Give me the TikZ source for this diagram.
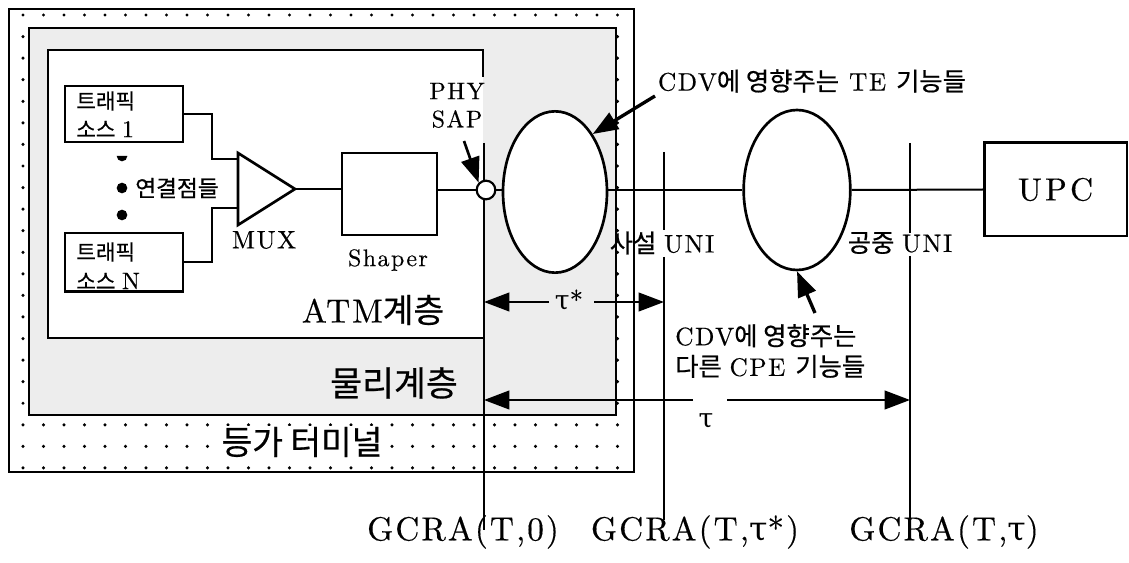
\documentclass[tikz,border=0pt]{standalone}
\usepackage{fontspec}
\usepackage{graphicx}
\newfontfamily\kr{Noto Sans CJK KR}[FakeBold=0.6]
\newfontfamily\gk{DejaVu Serif}
\newfontfamily\lmw{lmroman10-regular.otf}[LetterSpace=6,FakeBold=0.35]
\usetikzlibrary{arrows.meta,shapes.geometric}
\newcommand\sz[1]{\fontsize{#1}{#1}\selectfont}
\newcommand\K[1]{{\kr #1}}
\newcommand\tauc{{\gk τ}}
\begin{document}
\begin{tikzpicture}[x=0.75pt,y=-0.75pt,
  bx/.style={draw,line width=2pt},
  ln/.style={line width=1.5pt},
  head/.style={-{Triangle[length=19pt,width=14pt]}},
  lbl/.style={inner sep=0pt}]
\useasboundingbox (0,0) rectangle (1129,563);
% ---------- outer terminal box with dot pattern ----------
\coordinate (oNW) at (9,9);
\coordinate (oSE) at (634,472);
\begin{scope}
  \clip (oNW) rectangle (oSE);
  \foreach \i in {0,...,29}{\foreach \j in {0,...,21}{%
    \fill (23+20.5*\i,15+21.57*\j) circle[radius=1.3pt];}}
\end{scope}
\coordinate (gNW) at (29,28);
\coordinate (gSE) at (616,415);
\fill[black!7] (gNW) rectangle (gSE);
\fill[white] (48,50) rectangle (483,338);
\draw[bx] (oNW) rectangle (oSE);
\draw[bx] (gNW) rectangle (gSE);
\coordinate (atmA) at (483,77);
\draw[bx] (atmA) -- (483,50) -- (48,50) -- (48,338) -- (483,338);
\node[fill=white,inner sep=1pt,font=\kr\sz{25}] (eqt) at (302,442) {등가 터미널};
\node[lbl,font=\kr\sz{26}] (phy) at (394,383) {물리계층};
\node[lbl] (atm) at (373,310) {\lmw\sz{25}ATM\K{계층}};
% ---------- traffic sources ----------
\node[bx,minimum width=88.5pt,minimum height=42pt,inner sep=0pt] (tb1) at (124,114) {};
\node[bx,minimum width=88.5pt,minimum height=44pt,inner sep=0pt] (tbN) at (124,262.5) {};
\node[lbl,anchor=west,font=\kr\sz{16}] (t1a) at (76,101) {트래픽};
\node[lbl,anchor=west,font=\sz{16}] (t1b) at (76,129) {\K{소스} \lmw\sz{18}1};
\node[lbl,anchor=west,font=\kr\sz{16}] (tNa) at (76,252) {트래픽};
\node[lbl,anchor=west,font=\sz{16}] (tNb) at (76,281) {\K{소스} \lmw\sz{18}N};
\fill (122,188) circle[radius=4pt];
\fill (122,215) circle[radius=4pt];
\fill (116.7,156) arc[start angle=180,end angle=360,radius=4pt] -- cycle;
\node[lbl,anchor=west,font=\kr\sz{17}] (conn) at (135,188) {연결점들};
% ---------- MUX ----------
\coordinate (muxA) at (238,153);
\coordinate (muxO) at (295,189);
\coordinate (muxB) at (238,225);
\draw[bx,fill=white] (muxA) -- (muxO) -- (muxB) -- cycle;
\coordinate (mi1) at (238,159);
\coordinate (miN) at (238,208);
\coordinate (k1) at (212,159);
\coordinate (kN) at (212,208);
\draw[ln] (tb1.east) -| (k1) -- (mi1);
\draw[ln] (tbN.east) -| (kN) -- (miN);
\node[lbl,font=\lmw\sz{19}] (muxl) at (264,240) {MUX};
% ---------- Shaper ----------
\node[bx,minimum width=71.25pt,minimum height=61.5pt,inner sep=0pt] (shp) at (389.5,194) {};
\node[lbl,font=\lmw\sz{18}] (shpl) at (388,260) {Shaper};
\draw[ln] (muxO) -- (muxO -| shp.west);
% ---------- PHY SAP ----------
\coordinate (phyT) at (484,143);
\coordinate (phyB) at (484,530);
\draw[ln] (phyT) -- (phyB);
\node[circle,draw,fill=white,line width=1.6pt,minimum size=14pt,inner sep=0pt] (sap) at (486,190) {};
\draw[ln] (shp.east |- sap) -- (sap.west);
\node[lbl,font=\lmw\sz{18}] (sapl1) at (457,91) {PHY};
\node[lbl,font=\lmw\sz{18}] (sapl2) at (457,119) {SAP};
\coordinate (sapAr) at (464,141);
\draw[line width=2pt,head] (sapAr) -- (sap.north west);
% ---------- ellipses and UPC ----------
\node[ellipse,draw,fill=white,line width=2pt,minimum width=78pt,minimum height=121pt,inner sep=0pt] (e1) at (555,192) {};
\node[ellipse,draw,fill=white,line width=2pt,minimum width=80pt,minimum height=120pt,inner sep=0pt] (e2) at (797,190) {};
\node[bx,minimum width=107pt,minimum height=70pt,inner sep=0pt,font=\lmw\sz{24}\addfontfeatures{LetterSpace=10}] (upc) at (1055.5,189.5) {UPC};
\draw[ln] (sap.east) -- (sap.east -| e1.west);
\draw[ln] (e1.east |- sap) -- (e2.west);
\draw[ln] (e2.east) -- (upc.west);
% ---------- UNI lines ----------
\coordinate (u1T) at (664,152);
\coordinate (u1a) at (664,230);
\coordinate (u1b) at (664,257);
\coordinate (u1B) at (664,520);
\draw[ln] (u1T) -- (u1a);
\draw[ln] (u1b) -- (u1B);
\coordinate (u2T) at (910,143);
\coordinate (u2a) at (910,233);
\coordinate (u2b) at (910,256);
\coordinate (u2B) at (910,520);
\draw[ln] (u2T) -- (u2a);
\draw[ln] (u2b) -- (u2B);
\node[lbl,font=\sz{19}] (uni1) at (662,243) {\K{사설} \lmw UNI};
\node[lbl,font=\sz{19}] (uni2) at (900,243) {\K{공중} \lmw UNI};
% ---------- tau arrows ----------
\coordinate (ts0) at (484,302);
\coordinate (ts1) at (549,302);
\coordinate (ts2) at (594,302);
\coordinate (ts3) at (664,302);
\draw[ln,head] (ts1) -- (ts0);
\draw[ln,head] (ts2) -- (ts3);
\node[lbl,font=\sz{20}] (taus) at (569,300) {\tauc\lmw *};
\coordinate (tt0) at (484,400);
\coordinate (tt1) at (693,400);
\coordinate (tt2) at (727,400);
\coordinate (tt3) at (910,400);
\draw[ln,head] (tt1) -- (tt0);
\draw[ln,head] (tt2) -- (tt3);
\node[lbl,font=\sz{20}] (tau) at (706,421) {\tauc};
% ---------- CDV labels ----------
\node[lbl,font=\sz{19}] (cdv1) at (812,81) {\lmw CDV\K{에 영향주는} TE \K{기능들}};
\coordinate (c1tail) at (655,96);
\draw[line width=2.5pt,head] (c1tail) -- (e1.north east);
\node[lbl,anchor=west,align=left,font=\sz{19}] (cdv2) at (675,351) {\lmw CDV\K{에 영향주는}\\[4pt]\K{다른} \lmw CPE \K{기능들}};
\coordinate (c2tail) at (815,313);
\draw[line width=2.5pt,head] (c2tail) -- (e2.south);
% ---------- GCRA labels ----------
\node[lbl,font=\lmw\sz{25}] (g0) at (463,532) {GCRA(T,0)};
\node[lbl,font=\lmw\sz{25}] (g1) at (695,532) {GCRA(T,\tauc*)};
\node[lbl,font=\lmw\sz{25}] (g2) at (944,532) {GCRA(T,\tauc)};
\end{tikzpicture}
\end{document}
